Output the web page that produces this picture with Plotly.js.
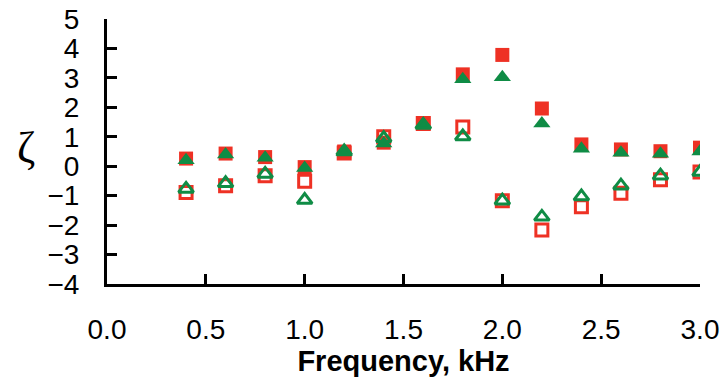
<!DOCTYPE html>
<html>
<head>
<meta charset="utf-8">
<script src="https://cdn.plot.ly/plotly-3.0.1.min.js"></script>
<style>
html,body{margin:0;padding:0;background:#fff;}
#chart{width:724px;height:385px;}
</style>
</head>
<body>
<div id="chart"></div>
<script>
var frequency = [0.4, 0.6, 0.8, 1.0, 1.2, 1.4, 1.6, 1.8, 2.0, 2.2, 2.4, 2.6, 2.8, 3.0];
var filledSquare = [0.26, 0.43, 0.31, -0.03, 0.50, 0.80, 1.46, 3.12, 3.78, 1.96, 0.74, 0.57, 0.51, 0.63];
var openSquare = [-0.89, -0.66, -0.32, -0.51, 0.45, 1.00, 1.45, 1.33, -1.17, -2.17, -1.38, -0.92, -0.46, -0.20];
var filledTriangle = [0.20, 0.40, 0.29, -0.06, 0.48, 0.77, 1.42, 2.95, 3.02, 1.45, 0.59, 0.46, 0.42, 0.50];
var openTriangle = [-0.77, -0.58, -0.26, -1.15, 0.50, 0.95, 1.40, 1.01, -1.17, -1.72, -1.03, -0.66, -0.32, -0.20];
var xTicks = [0, 0.5, 1.0, 1.5, 2.0, 2.5, 3.0];
var xTickText = ['0.0', '0.5', '1.0', '1.5', '2.0', '2.5', '3.0'];
var yTicks = [-4, -3, -2, -1, 0, 1, 2, 3, 4, 5];

var red = '#EE3124';
var green = '#0F8C45';

var traces = [
  {x: frequency, y: filledSquare, type: 'scatter', mode: 'markers', name: 'filled square',
   marker: {symbol: 'square', size: 14, color: red, line: {width: 0}}},
  {x: frequency, y: openSquare, type: 'scatter', mode: 'markers', name: 'open square',
   marker: {symbol: 'square-open', size: 12, color: red, line: {width: 3, color: red}}},
  {x: frequency, y: filledTriangle, type: 'scatter', mode: 'markers', name: 'filled triangle',
   marker: {symbol: 'triangle-up', size: 15, color: green, line: {width: 0}}},
  {x: frequency, y: openTriangle, type: 'scatter', mode: 'markers', name: 'open triangle',
   marker: {symbol: 'triangle-up-open', size: 13, color: green, line: {width: 3, color: green}}}
];

var axisCommon = {
  showline: true, linewidth: 3, linecolor: '#000',
  ticks: 'inside', ticklen: 10, tickwidth: 3, tickcolor: '#000',
  showgrid: false, zeroline: false, mirror: false,
  tickfont: {family: 'Liberation Sans, Arial, sans-serif', size: 28, color: '#000'},
  fixedrange: true
};

var layout = {
  width: 724, height: 385,
  margin: {l: 107, r: 24, t: 19, b: 101, pad: 0},
  paper_bgcolor: '#fff', plot_bgcolor: '#fff',
  showlegend: false,
  xaxis: Object.assign({}, axisCommon, {
    range: [0, 3], tickvals: xTicks, ticktext: xTickText,
    ticklabelstandoff: 18,
    automargin: false,
    title: {text: '<b>Frequency, kHz</b>', standoff: 2,
            font: {family: 'Liberation Sans, Arial, sans-serif', size: 29, color: '#000'}}
  }),
  yaxis: Object.assign({}, axisCommon, {
    range: [-4, 5], tickvals: yTicks,
    ticklabelstandoff: 19,
    automargin: false
  }),
  annotations: [{
    text: 'ζ', xref: 'paper', yref: 'paper', x: -0.137, y: 0.515,
    xanchor: 'center', yanchor: 'middle', showarrow: false,
    font: {family: 'Liberation Serif, Times New Roman, serif', size: 44, color: '#000'}
  }]
};

Plotly.newPlot('chart', traces, layout, {displayModeBar: false, staticPlot: true});
</script>
</body>
</html>
